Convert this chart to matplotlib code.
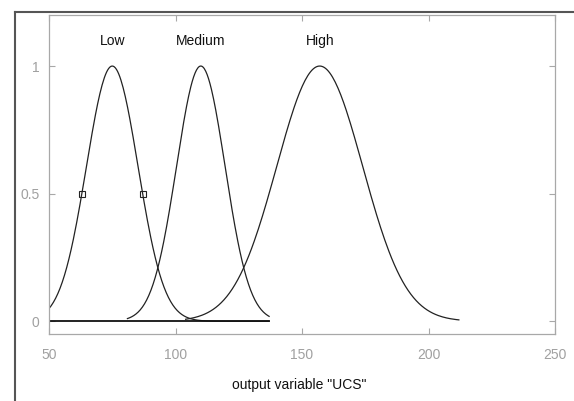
import numpy as np
import matplotlib.pyplot as plt
from matplotlib.lines import Line2D

# gaussian membership functions: centre, sigma, drawn range
mf_names = ["Low", "Medium", "High"]
mf_centers = [75, 110, 157]
mf_sigmas = [10.2, 9.6, 17.0]
mf_start = [50, 81, 104]
mf_end = [137, 137, 212]
marker_x = [63, 87]      # selected MF markers at 0.5
marker_y = [0.5, 0.5]

x_ticks = [50, 100, 150, 200, 250]
y_ticks = [0, 0.5, 1]
y_tick_labels = ["0", "0.5", "1"]

plt.rcParams['font.family'] = ['Liberation Sans', 'DejaVu Sans']

fig = plt.figure(figsize=(5.74, 4.01), dpi=100)
ax = fig.add_axes([49 / 574, 67 / 401, 506 / 574, 319 / 401])

grey = '#a8a8a8'
for name, c, s, a, b in zip(mf_names, mf_centers, mf_sigmas, mf_start, mf_end):
    x = np.linspace(a, b, 200)
    y = np.exp(-(x - c) ** 2 / (2 * s ** 2))
    ax.plot(x, y, color='#222222', lw=0.9)
    ax.text(c, 1.1, name, ha='center', va='center', fontsize=10, color='#111111')

# baseline where the curves sit at zero
ax.plot([50, 137], [0, 0], color='#111111', lw=1.3)
ax.plot(marker_x, marker_y, ls='none', marker='s', ms=5, mfc='none',
        mec='#222222', mew=0.8)

ax.set_xlim(50, 250)
ax.set_ylim(-0.05, 1.2)
ax.set_xticks(x_ticks)
ax.set_yticks(y_ticks)
ax.set_yticklabels(y_tick_labels)
ax.tick_params(direction='in', colors=grey, labelcolor='#a0a0a0', labelsize=10,
               top=True, right=True, length=4, width=0.8)
ax.tick_params(axis='x', pad=10)
ax.tick_params(axis='y', pad=7)
for sp in ax.spines.values():
    sp.set_color(grey)
    sp.set_linewidth(0.9)
fig.text(299 / 574, 1 - 385 / 401, 'output variable "UCS"', ha='center', va='center',
         fontsize=10, color='#111111')

# outer dark frame of the window
fig.add_artist(Line2D([15 / 574, 15 / 574], [0, 1 - 12 / 401], transform=fig.transFigure,
                      color='#555555', lw=1.5))
fig.add_artist(Line2D([15 / 574, 1], [1 - 12 / 401, 1 - 12 / 401], transform=fig.transFigure,
                      color='#555555', lw=1.5))

fig.savefig('out.png', dpi=100)
